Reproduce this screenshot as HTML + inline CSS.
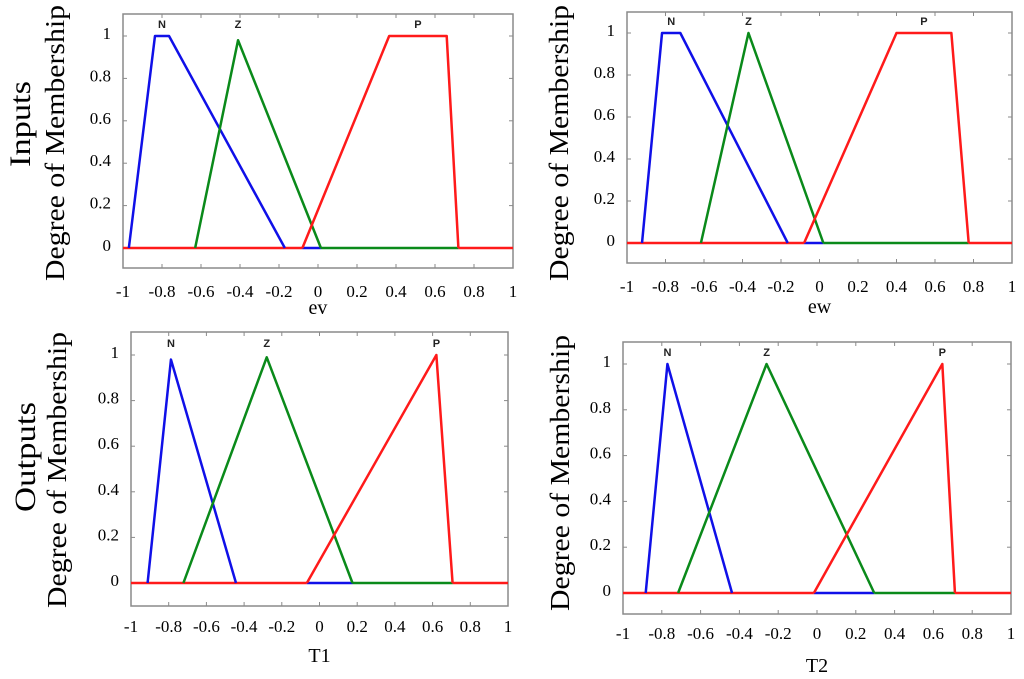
<!DOCTYPE html>
<html><head><meta charset="utf-8"><style>
html,body{margin:0;padding:0;background:#fff;}
svg{display:block;}
</style></head><body>
<svg id="fig" width="1024" height="679" viewBox="0 0 1024 679" xmlns="http://www.w3.org/2000/svg">
<text transform="translate(30,124) rotate(-90)" text-anchor="middle" font-family="Liberation Serif, serif" font-size="30" textLength="86" lengthAdjust="spacingAndGlyphs">Inputs</text>
<text transform="translate(35,457) rotate(-90)" text-anchor="middle" font-family="Liberation Serif, serif" font-size="30" textLength="110" lengthAdjust="spacingAndGlyphs">Outputs</text>
</svg>
<script>
// ---- data ----
const xTicks = [-1,-0.8,-0.6,-0.4,-0.2,0,0.2,0.4,0.6,0.8,1];
const xTickLabels = ["-1","-0.8","-0.6","-0.4","-0.2","0","0.2","0.4","0.6","0.8","1"];
const yTicks = [0,0.2,0.4,0.6,0.8,1];
const yTickLabels = ["0","0.2","0.4","0.6","0.8","1"];
const setNames = ["N","Z","P"];
// membership function breakpoints (x values, y values) per panel
const evN_x = [-0.97,-0.836,-0.764,-0.17], evN_y = [0,1,1,0];
const evZ_x = [-0.63,-0.41,0.015], evZ_y = [0,0.98,0];
const evP_x = [-0.08,0.365,0.66,0.72], evP_y = [0,1,1,0];
const ewN_x = [-0.922,-0.818,-0.723,-0.165], ewN_y = [0,1,1,0];
const ewZ_x = [-0.616,-0.369,0.02], ewZ_y = [0,1,0];
const ewP_x = [-0.08,0.40,0.685,0.775], ewP_y = [0,1,1,0];
const t1N_x = [-0.912,-0.788,-0.443], t1N_y = [0,0.98,0];
const t1Z_x = [-0.722,-0.28,0.175], t1Z_y = [0,0.99,0];
const t1P_x = [-0.067,0.62,0.706], t1P_y = [0,1,0];
const t2N_x = [-0.883,-0.771,-0.438], t2N_y = [0,1,0];
const t2Z_x = [-0.716,-0.26,0.295], t2Z_y = [0,1,0];
const t2P_x = [-0.016,0.646,0.711], t2P_y = [0,1,0];

const NS="http://www.w3.org/2000/svg";
const svg=document.getElementById('fig');
const colors=["#1010e8","#0a8a1a","#ff1a1a"];
function mk(tag,attrs,parent){const e=document.createElementNS(NS,tag);for(const k in attrs)e.setAttribute(k,attrs[k]);(parent||svg).appendChild(e);return e;}

const panels=[
 {id:"ev",L:123,R:513,T:14,B:268,y1:36,y0:248,xl:"ev",xlY:314,ylX:64,ylY:143,tlY:297,sets:[[evN_x,evN_y],[evZ_x,evZ_y],[evP_x,evP_y]]},
 {id:"ew",L:627,R:1012,T:12,B:263,y1:33,y0:243,xl:"ew",xlY:313,ylX:568,ylY:143,tlY:292,sets:[[ewN_x,ewN_y],[ewZ_x,ewZ_y],[ewP_x,ewP_y]]},
 {id:"t1",L:131,R:508,T:332,B:606,y1:355,y0:583,xl:"T1",xlY:662,ylX:66,ylY:470,tlY:632,sets:[[t1N_x,t1N_y],[t1Z_x,t1Z_y],[t1P_x,t1P_y]]},
 {id:"t2",L:623,R:1011,T:342,B:614,y1:364,y0:593,xl:"T2",xlY:672,ylX:569,ylY:473,tlY:639,sets:[[t2N_x,t2N_y],[t2Z_x,t2Z_y],[t2P_x,t2P_y]]}
];

panels.forEach(p=>{
 const g=mk('g',{});
 
 
 const sx=v=>p.L+(v+1)/2*(p.R-p.L);
 const sy=v=>p.y0-v*(p.y0-p.y1);
 const fr=mk('rect',{x:p.L,y:p.T,width:p.R-p.L,height:p.B-p.T,fill:"none",stroke:"#8a8a8a","stroke-width":1.5},g);
 
 
 xTicks.forEach((t,i)=>{
  const x=sx(t);
  mk('line',{x1:x,x2:x,y1:p.T,y2:p.T+4,stroke:"#8a8a8a","stroke-width":1},g);
  mk('line',{x1:x,x2:x,y1:p.B,y2:p.B-4,stroke:"#8a8a8a","stroke-width":1},g);
  const tx=mk('text',{x:x,y:p.tlY,"text-anchor":"middle","font-family":"Liberation Serif, serif","font-size":17},g);
  
  
  tx.textContent=xTickLabels[i];
 });
 yTicks.forEach((t,i)=>{
  const y=sy(t);
  mk('line',{x1:p.L,x2:p.L+4,y1:y,y2:y,stroke:"#8a8a8a","stroke-width":1},g);
  mk('line',{x1:p.R,x2:p.R-4,y1:y,y2:y,stroke:"#8a8a8a","stroke-width":1},g);
  const ty=mk('text',{x:p.L-12,y:y+3,"text-anchor":"end","font-family":"Liberation Serif, serif","font-size":17},g);
  
  
  ty.textContent=yTickLabels[i];
 });
 const xl=mk('text',{x:(p.L+p.R)/2,y:p.xlY,"text-anchor":"middle","font-family":"Liberation Serif, serif","font-size":20},g);
 
 
 xl.textContent=p.xl;
 const yl=mk('text',{transform:`translate(${p.ylX},${p.ylY}) rotate(-90)`,"text-anchor":"middle","font-family":"Liberation Serif, serif","font-size":27,textLength:276,lengthAdjust:"spacingAndGlyphs"},g);
 
 
 yl.textContent="Degree of Membership";
 const zEnd=p.sets[1][0][p.sets[1][0].length-1];
 const pStart=p.sets[2][0][0];
 const pEnd=p.sets[2][0][p.sets[2][0].length-1];
 const segs=[[-1,pStart,2],[pStart,zEnd,0],[zEnd,pEnd,1],[pEnd,1,2]];
 segs.forEach(s=>{
  const l=mk('line',{x1:sx(s[0]),x2:sx(s[1]),y1:sy(0),y2:sy(0),stroke:colors[s[2]],"stroke-width":2.5},g);
  
  
 });
 p.sets.forEach((st,k)=>{
  const pts=st[0].map((x,i)=>sx(x)+","+sy(st[1][i])).join(" ");
  const pl=mk('polyline',{points:pts,fill:"none",stroke:colors[k],"stroke-width":2.5,"stroke-linejoin":"round"},g);
  
  
  let mi=0;st[1].forEach((v,i)=>{if(v>st[1][mi])mi=i;});
  let px=st[0][mi];
  if(st[1].length===4)px=(st[0][1]+st[0][2])/2;
  const lb=mk('text',{x:sx(px),y:sy(1)-8,"text-anchor":"middle","font-family":"Liberation Sans, sans-serif","font-size":11,"font-weight":"bold",fill:"#222"},g);
  
  
  lb.textContent=setNames[k];
 });
});
</script>
</body></html>
